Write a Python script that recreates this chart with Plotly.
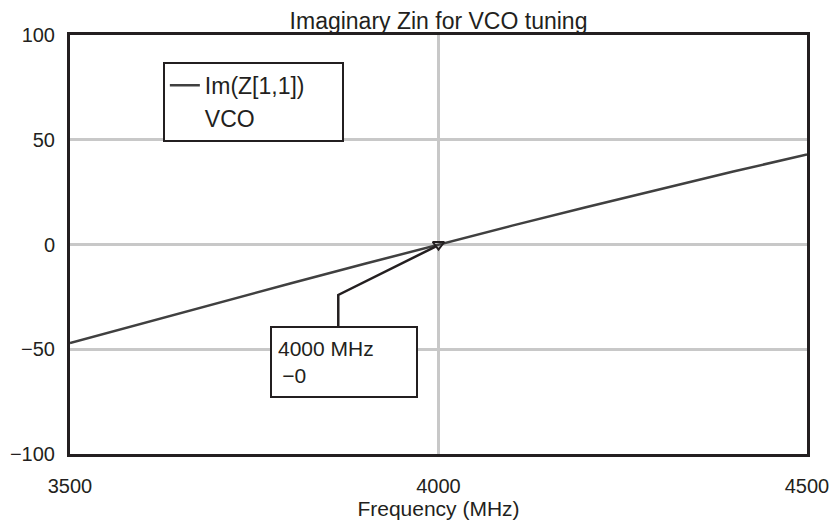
import plotly.graph_objects as go

# Imaginary part of Zin vs frequency
freq_mhz = [3500, 3600, 3700, 3800, 3900, 4000, 4100, 4200, 4300, 4400, 4500]
im_z11 = [-47, -37.4, -28, -18.5, -9.2, 0, 9, 17.8, 26.4, 34.8, 43]

marker_freq = 4000
marker_val = 0

x_ticks = [3500, 4000, 4500]
y_ticks = [-100, -50, 0, 50, 100]
y_tick_text = ["\u2212100", "\u221250", "0", "50", "100"]

font = "Liberation Sans, Arial, sans-serif"
axis_col = "#231f20"
grid_col = "#c8c8c8"
pad = "\u00a0" * 5  # widen the legend box

fig = go.Figure()

fig.add_trace(go.Scatter(
    x=freq_mhz, y=im_z11, mode="lines",
    name="Im(Z[1,1])" + pad,
    line=dict(color="#404040", width=2.5),
))
# second legend row, text only
fig.add_trace(go.Scatter(
    x=[None], y=[None], mode="lines", name="VCO",
    line=dict(color="rgba(0,0,0,0)", width=0),
))

# marker at 4000 MHz
fig.add_trace(go.Scatter(
    x=[marker_freq], y=[marker_val], mode="markers", showlegend=False,
    marker=dict(symbol="triangle-down-open", size=10,
                line=dict(color=axis_col, width=2), color=axis_col),
))

# leader line from readout box to marker
fig.add_shape(type="path", xref="x", yref="y",
              path=f"M 3864 -38.9 L 3864 -24.1 L {marker_freq - 4} {marker_val - 1}",
              line=dict(color=axis_col, width=2.5))

fig.add_annotation(
    x=3771, y=-38.9, xref="x", yref="y", xanchor="left", yanchor="top",
    text="4000 MHz<br>\u2009\u22120", showarrow=False, align="left",
    font=dict(family=font, size=21, color="#231f20"),
    bordercolor=axis_col, borderwidth=2, borderpad=6, bgcolor="white",
    width=132, height=56,
)

fig.update_layout(
    width=823, height=516,
    margin=dict(l=62, r=24, t=27, b=70, autoexpand=False),
    paper_bgcolor="white", plot_bgcolor="white",
    title=dict(text="Imaginary Zin for VCO tuning", x=0.5, xanchor="center",
               xref="paper", yref="paper", y=1, yanchor="bottom",
               pad=dict(b=6),
               font=dict(family=font, size=23, color="#231f20")),
    font=dict(family=font, size=20, color="#231f20"),
    showlegend=True,
    legend=dict(x=0.126, y=0.936, xanchor="left", yanchor="top",
                bordercolor=axis_col, borderwidth=2, bgcolor="white",
                font=dict(family=font, size=23, color="#231f20"),
                itemwidth=30, tracegroupgap=0),
)

fig.update_xaxes(
    range=[3500, 4500], tickvals=x_ticks, ticks="", showgrid=True,
    gridcolor=grid_col, gridwidth=2.5, zeroline=False, automargin=False,
    showline=True, linecolor=axis_col, linewidth=3, mirror=True,
    title=dict(text="Frequency (MHz)", font=dict(size=21), standoff=6),
    tickfont=dict(size=20), ticklabelstandoff=12,
)
fig.update_yaxes(
    range=[-100, 100], tickvals=y_ticks, ticktext=y_tick_text, ticks="",
    showgrid=True, gridcolor=grid_col, gridwidth=2.5, zeroline=False,
    automargin=False,
    showline=True, linecolor=axis_col, linewidth=3, mirror=True,
    tickfont=dict(size=20), ticklabelstandoff=8,
)

fig.write_html("out.html")
